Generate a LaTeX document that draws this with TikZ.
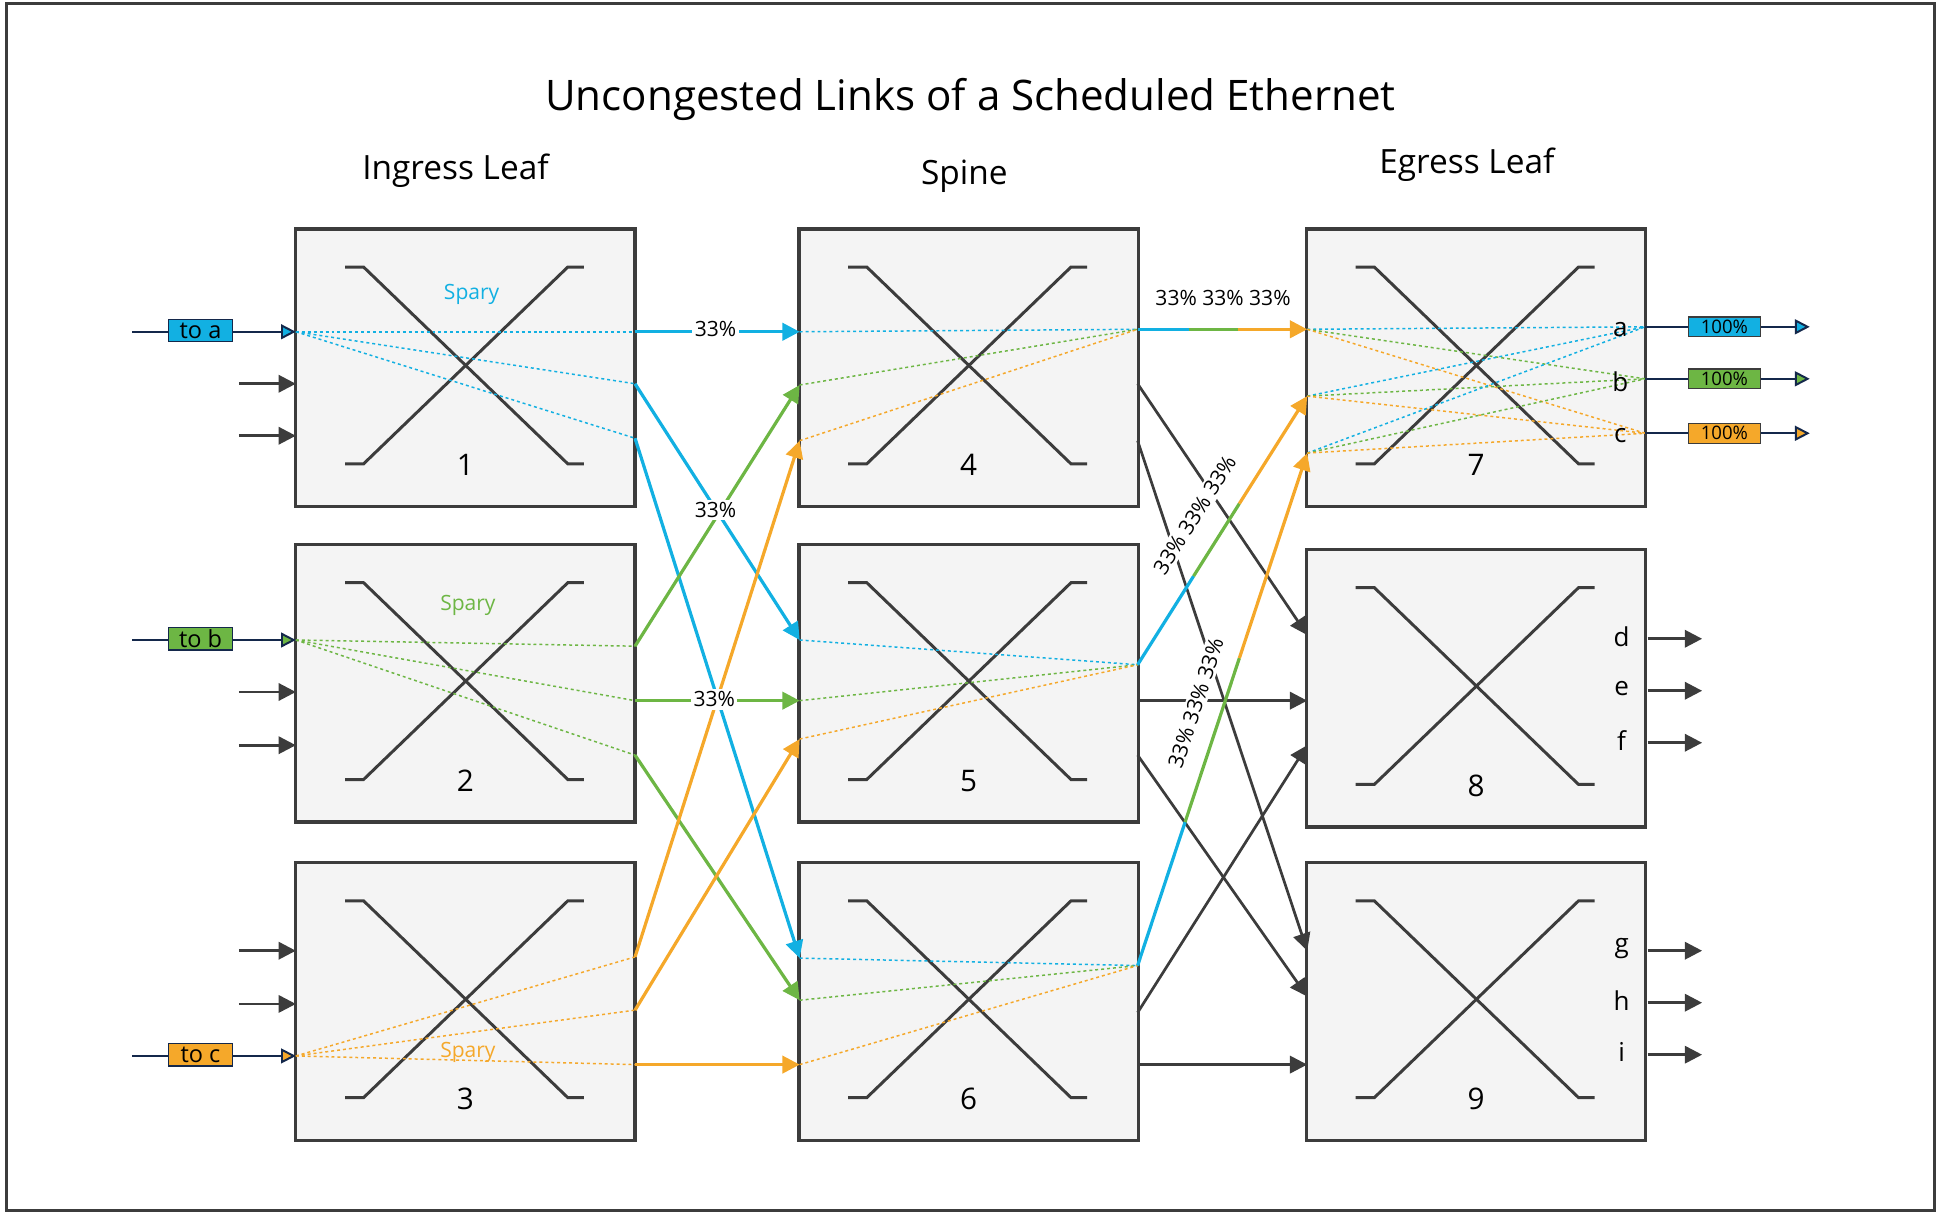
\documentclass[tikz,border=0pt]{standalone}
\usepackage{fontspec}
\setmainfont{Open Sans}
\usetikzlibrary{arrows.meta,calc}
\definecolor{cb}{HTML}{12B0E2}
\definecolor{cg}{HTML}{6DB644}
\definecolor{co}{HTML}{F5A82A}
\definecolor{dk}{HTML}{3C3C3C}
\definecolor{nv}{HTML}{14284B}
\definecolor{bf}{HTML}{F4F4F4}
\tikzset{
  sw/.style={draw=dk,line width=1.3pt,fill=bf,minimum width=137pt,minimum height=112pt,inner sep=0pt},
  dl/.style={line width=0.6pt,dash pattern=on 1.2pt off 1.2pt},
  cl/.style={line width=1.3pt},
  darr/.style={draw=dk,line width=1.1pt,-{Triangle[length=7pt,width=7pt]}},
  carr/.style={cl,-{Triangle[length=7pt,width=7pt]}},
  pct/.style={font=\fontsize{8.5}{9}\selectfont,fill=white,inner sep=1pt},
  tag/.style={draw=nv,line width=0.6pt,inner sep=0.8pt,minimum width=26pt,minimum height=9pt,font=\fontsize{9.5}{9}\selectfont},
  ptag/.style={draw=dk,line width=0.5pt,inner sep=0.5pt,minimum width=29pt,minimum height=8pt,font=\fontsize{7.5}{8}\selectfont},
  otip/.style={-{Triangle[open,length=6pt,width=6pt,fill=#1]}},
}
\begin{document}
\begin{tikzpicture}[x=0.5pt,y=-0.5pt]
\useasboundingbox (0,0) rectangle (1568,982);
\draw[dk,line width=1.2pt] (5,3) rectangle (1563,978);
\node[font=\fontsize{17}{18}\selectfont] (title) at (784,80) {Uncongested Links of a Scheduled Ethernet};
\node[font=\fontsize{13.5}{15}\selectfont] (h1) at (368,138) {Ingress Leaf};
\node[font=\fontsize{13.5}{15}\selectfont] (h2) at (779,142) {Spine};
\node[font=\fontsize{13.5}{15}\selectfont] (h3) at (1185,133) {Egress Leaf};
% boxes
\foreach \n/\x/\y in {1/376/297,2/376/552,3/376/809,4/782.5/297,5/782.5/552,6/782.5/809,7/1192.5/297,8/1192.5/556,9/1192.5/809}{
  \node[sw] (b\n) at (\x,\y) {};
  \draw[dk,line width=1.2pt] ($(b\n.north west)+(41,32)$) -- ++(15,0) -- ($(b\n.north west)+(221,191)$) -- ++(13,0);
  \draw[dk,line width=1.2pt] ($(b\n.north west)+(234,32)$) -- ++(-13,0) -- ($(b\n.north west)+(56,191)$) -- ++(-15,0);
  \node[font=\fontsize{12}{14}\selectfont] (n\n) at ($(b\n.north)+(0,192)$) {\n};
}
\node[cb,font=\fontsize{8.5}{9}\selectfont] (s1) at (381,238) {Spary};
\node[cg,font=\fontsize{8.5}{9}\selectfont] (s2) at (378,489) {Spary};
\node[co,font=\fontsize{8.5}{9}\selectfont] (s3) at (378,850) {Spary};
% coordinates
\coordinate (i1) at (239,268); \coordinate (i2) at (239,517); \coordinate (i3) at (239,853);
\foreach \k/\y in {a/268,b/310,c/354}{\coordinate (o1\k) at (513,\y);}
\foreach \k/\y in {a/522,b/566,c/610}{\coordinate (o2\k) at (513,\y);}
\foreach \k/\y in {a/773,b/816,c/860}{\coordinate (o3\k) at (513,\y);}
\foreach \k/\y in {a/268,b/311,c/356}{\coordinate (p4\k) at (646,\y);}
\foreach \k/\y in {a/517,b/566,c/597}{\coordinate (p5\k) at (646,\y);}
\foreach \k/\y in {a/774,b/808,c/860}{\coordinate (p6\k) at (646,\y);}
\coordinate (q4) at (919,266); \coordinate (q5) at (919,537); \coordinate (q6) at (919,780);
\coordinate (e7a) at (1056,266); \coordinate (e7b) at (1056,320); \coordinate (e7c) at (1056,366);
\coordinate (xa) at (1329,264); \coordinate (xb) at (1329,306); \coordinate (xc) at (1329,350);
% inputs
\foreach \y in {310,352,559,602,768,811}{\coordinate (L\y) at (193,\y); \coordinate (R\y) at (239,\y); \draw[darr] (L\y) -- (R\y);}
\foreach \i/\c/\t in {1/cb/to a,2/cg/to b,3/co/to c}{
  \coordinate (st\i) at ($(i\i)+(-132,0)$);
  \draw[nv,line width=0.8pt,otip=\c] (st\i) -- (i\i);
  \node[tag,fill=\c] (t\i) at ($(i\i)+(-77,-1)$) {\t};
}
% dotted inside ingress
\foreach \k in {a,b,c}{
  \draw[cb,dl] (i1) -- (o1\k); \draw[cg,dl] (i2) -- (o2\k); \draw[co,dl] (i3) -- (o3\k);
}
% ingress to spine
\draw[cb,carr] (o1a) -- (p4a); \draw[cb,carr] (o1b) -- (p5a); \draw[cb,carr] (o1c) -- (p6a);
\draw[cg,carr] (o2a) -- (p4b); \draw[cg,carr] (o2b) -- (p5b); \draw[cg,carr] (o2c) -- (p6b);
\draw[co,carr] (o3a) -- (p4c); \draw[co,carr] (o3b) -- (p5c); \draw[co,carr] (o3c) -- (p6c);
\node[pct] (l1) at (578,266) {33\%};
\node[pct] (l2) at (578,412) {33\%};
\node[pct] (l3) at (577,565) {33\%};
% spine dotted
\foreach \s in {4,5,6}{
  \draw[cb,dl] (p\s a) -- (q\s); \draw[cg,dl] (p\s b) -- (q\s); \draw[co,dl] (p\s c) -- (q\s);
}
% dark spine to egress
\coordinate (d4a) at (919,310); \coordinate (d4b) at (919,356);
\coordinate (d5a) at (919,566); \coordinate (d5b) at (919,610);
\coordinate (d6a) at (919,818); \coordinate (d6b) at (919,860);
\coordinate (f8a) at (1056,513); \coordinate (f8b) at (1056,566); \coordinate (f8c) at (1056,602);
\coordinate (f9a) at (1056,768); \coordinate (f9b) at (1056,805); \coordinate (f9c) at (1056,860);
\draw[darr] (d4a) -- (f8a); \draw[darr] (d4b) -- (f9a);
\draw[darr] (d5a) -- (f8b); \draw[darr] (d5b) -- (f9b);
\draw[darr] (d6a) -- (f8c); \draw[darr] (d6b) -- (f9c);
% tri-coloured spine to egress 7
\foreach \s/\e/\u/\v in {4/a/0.3/0.59,5/b/0.33/0.6,6/c/0.28/0.6}{
  \draw[cb,cl] (q\s) -- ($(q\s)!\u!(e7\e)$);
  \draw[cg,cl] ($(q\s)!\u!(e7\e)$) -- ($(q\s)!\v!(e7\e)$);
  \draw[co,carr] ($(q\s)!\v!(e7\e)$) -- (e7\e);
}
\node[pct,fill=none] (l4) at (988,241) {33\% 33\% 33\%};
\node[pct,rotate=57.7] (l5) at (965,416) {33\% 33\% 33\%};
\node[pct,rotate=71.7] (l6) at (966,568) {33\% 33\% 33\%};
% egress 7 dotted
\foreach \k in {a,b,c}{
  \draw[cb,dl] (e7\k) -- (xa); \draw[cg,dl] (e7\k) -- (xb); \draw[co,dl] (e7\k) -- (xc);
}
% outputs
\foreach \k/\c in {a/cb,b/cg,c/co}{
  \node[font=\fontsize{10.5}{11}\selectfont] (lab\k) at ($(x\k)+(-20,2)$) {\k};
  \coordinate (xe\k) at ($(x\k)+(133,0)$);
  \draw[nv,line width=0.8pt,otip=\c] (x\k) -- (xe\k);
  \node[ptag,fill=\c] (pt\k) at ($(x\k)+(64,0)$) {100\%};
}
\foreach \k/\y in {d/516,e/558,f/600,g/768,h/810,i/852}{
  \node[font=\fontsize{10.5}{11}\selectfont] (lab\k) at (1310,\y-2) {\k};
  \coordinate (ys\k) at (1331,\y); \coordinate (ye\k) at (1375,\y);
  \draw[darr] (ys\k) -- (ye\k);
}
\end{tikzpicture}
\end{document}
